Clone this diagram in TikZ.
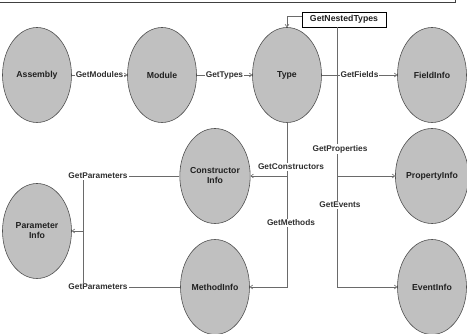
\documentclass[tikz,border=0pt]{standalone}
\usepackage{fontspec}
\setmainfont{Liberation Sans}
\usetikzlibrary{arrows.meta,shapes.geometric}
\definecolor{ellfill}{HTML}{C0C0C0}
\definecolor{elldraw}{HTML}{505050}
\definecolor{linec}{HTML}{6A6A6A}
\definecolor{txtc}{HTML}{202020}
\definecolor{lblc}{HTML}{303030}
\begin{document}
\begin{tikzpicture}[x=1pt,y=-1pt,
  ent/.style={ellipse, draw=elldraw, fill=ellfill, line width=0.6pt,
    minimum width=69pt, minimum height=95pt, inner sep=0pt, align=center,
    text=txtc, font=\bfseries\fontsize{8.7}{10}\selectfont},
  lbl/.style={fill=white, inner sep=1pt, text=lblc,
    font=\bfseries\fontsize{8.3}{10}\selectfont},
  conn/.style={draw=linec, line width=0.6pt, -{Straight Barb[length=2.5pt,width=4pt]}},
  plain/.style={draw=linec, line width=0.6pt},
  boxn/.style={draw=black, fill=white, line width=0.8pt, minimum width=84pt,
    minimum height=15pt, inner sep=0pt, text=txtc,
    font=\bfseries\fontsize{8.7}{10}\selectfont}]
\useasboundingbox (0,0) rectangle (467,334);
\draw[draw=black!75, line width=0.9pt] (0,2.5) -- (455.5,2.5) -- (455.5,0);

\node[ent] (asm)  at (37,75)  {Assembly};
\node[ent] (mod)  at (162,75) {Module};
\node[ent] (typ)  at (287,75) {Type};
\node[ent] (fld)  at (432,75) {FieldInfo};
\node[ent] (ctor) at (215,176) {Constructor\\Info};
\node[ent] (prop) at (432,176) {PropertyInfo};
\node[ent] (par)  at (37,231) {Parameter\\Info};
\node[ent] (meth) at (215,287) {MethodInfo};
\node[ent] (evt)  at (432,287) {EventInfo};

\node[boxn] (nested) at (344,19.5) {GetNestedTypes};

\draw[conn] (asm) -- node[lbl] {GetModules} (mod);
\draw[conn] (mod) -- node[lbl] {GetTypes} (typ);
\draw[conn] (typ) -- node[lbl] {GetFields} (fld);
\draw[conn] ([yshift=3.5pt]nested.west) -| (typ.north);

\coordinate (vtop) at (337,27.5);
\coordinate (pj) at (337,176);
\draw[conn] (vtop) |- (evt);
\draw[conn] (pj) -- (prop);
\node[lbl] (lprop) at (340,149) {GetProperties};
\node[lbl] (levt) at (340,205) {GetEvents};

\coordinate (cj) at (287,176);
\draw[conn] (typ.south) |- (meth);
\draw[conn] (cj) -- (ctor);
\node[lbl] (lctor) at (291,167) {GetConstructors};
\node[lbl] (lmeth) at (291,223) {GetMethods};

\coordinate (pc) at (83,176);
\coordinate (pm) at (83,287);
\draw[conn] (ctor) -- (pc) |- (par);
\draw[plain] (meth) -- (pm) -- (83,231);
\node[lbl] (lpc) at (98,176) {GetParameters};
\node[lbl] (lpm) at (98,287) {GetParameters};
\end{tikzpicture}
\end{document}
